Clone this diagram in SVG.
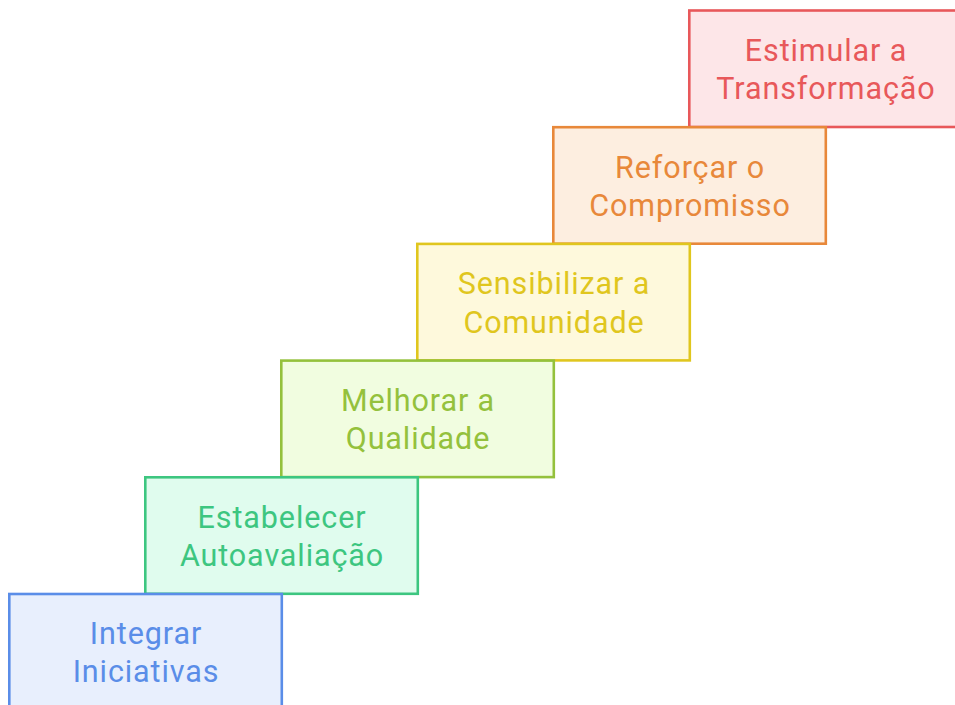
<svg xmlns="http://www.w3.org/2000/svg" width="955" height="705" viewBox="0 0 955 705">
<style>
rect{stroke-width:2.6}
text{font-family:Roboto,"Liberation Sans",sans-serif;font-size:30.5px;letter-spacing:0.9px;text-anchor:middle}
.red rect{fill:#fde6e8;stroke:#e8585a}.red text{fill:#e8585a}
.orange rect{fill:#fdeee0;stroke:#e8883a}.orange text{fill:#e8883a}
.yellow rect{fill:#fef9dc;stroke:#e0c61e}.yellow text{fill:#e0c61e}
.lime rect{fill:#f1fde0;stroke:#94c13c}.lime text{fill:#94c13c}
.green rect{fill:#e0fcee;stroke:#3dc680}.green text{fill:#3dc680}
.blue rect{fill:#e8effd;stroke:#5a8de8}.blue text{fill:#5a8de8}
</style>
<g id="connectors"></g>
<g id="n6" class="red"><rect x="689.3" y="10.5" width="272.5" height="116.5"/><text x="826" y="61">Estimular a</text><text x="826" y="99.3">Transformação</text></g>
<g id="n5" class="orange"><rect x="553.3" y="127.2" width="272.5" height="116.5"/><text x="690" y="177.7">Reforçar o</text><text x="690" y="216">Compromisso</text></g>
<g id="n4" class="yellow"><rect x="417.3" y="243.9" width="272.5" height="116.5"/><text x="554" y="294.4">Sensibilizar a</text><text x="554" y="332.7">Comunidade</text></g>
<g id="n3" class="lime"><rect x="281.3" y="360.6" width="272.5" height="116.5"/><text x="418" y="411.1">Melhorar a</text><text x="418" y="449.4">Qualidade</text></g>
<g id="n2" class="green"><rect x="145.3" y="477.3" width="272.5" height="116.5"/><text x="282" y="527.8">Estabelecer</text><text x="282" y="566.1">Autoavaliação</text></g>
<g id="n1" class="blue"><rect x="9.3" y="594" width="272.5" height="116.5"/><text x="146" y="643.5">Integrar</text><text x="146" y="681.8">Iniciativas</text></g>
</svg>
